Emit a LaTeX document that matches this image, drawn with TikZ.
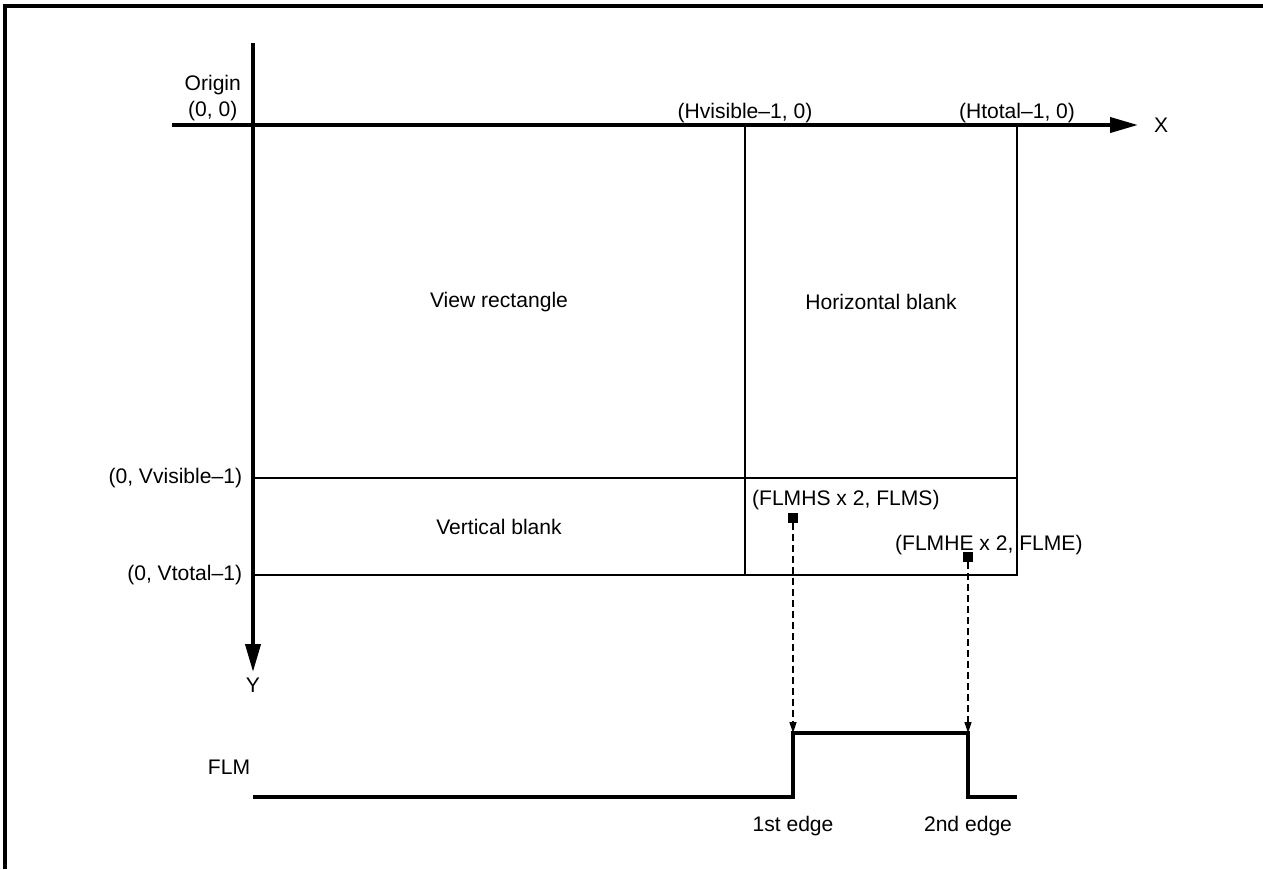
\documentclass[tikz,border=0pt]{standalone}
\usepackage{fontspec}
\setmainfont{Liberation Sans}
\usetikzlibrary{arrows.meta,positioning}

\begin{document}
\begin{tikzpicture}[
        x=0.02cm, y=-0.02cm,
        every node/.style={font=\fontsize{12}{15}\selectfont, inner sep=1pt},
        axis/.style={line width=2.2pt, -{Triangle[length=0.56cm, width=0.3cm]}},
        frameline/.style={line width=1.4pt},
        thinline/.style={line width=0.8pt},
        wave/.style={line width=1.8pt},
        dasharrow/.style={dash pattern=on 0.13cm off 0.09cm, line width=0.8pt, -{Triangle[length=0.22cm, width=0.14cm]}},
        marker/.style={fill=black, inner sep=0pt, minimum size=0.2cm},
    ]
        \useasboundingbox (0,0) rectangle (1263,869);

        % Outer frame (top and left only)
        \draw[line width=2pt] (5,869) -- (5,6) -- (1263,6);

        % Axes
        \coordinate (origin) at (253,125);
        \coordinate (xstart) at (172,125);
        \coordinate (ystart) at (253,43);
        \coordinate (xend) at (1138,125);
        \coordinate (yend) at (253,672);
        \draw[axis] (xstart) -- (xend);
        \draw[axis] (ystart) -- (yend);
        \node (xlabel) [right=8pt of xend] {X};
        \node (ylabel) [below=2pt of yend] {Y};
        \node (orig) [align=center, anchor=east] at (243,98) {Origin\\(0, 0)};

        % Grid corners
        \coordinate (hvis) at (745,125);
        \coordinate (htot) at (1017,125);
        \coordinate (vvis) at (253,478);
        \coordinate (vtot) at (253,575);
        \coordinate (hvvis) at (745,478);
        \coordinate (hvtot) at (745,575);
        \coordinate (tvis) at (1017,478);
        \coordinate (ttot) at (1017,575);

        \draw[frameline] (hvis) -- (hvvis);
        \draw[frameline] (vvis) -- (hvvis);
        \draw[frameline] (vtot) -- (hvtot);
        \draw[thinline] (hvvis) -- (hvtot) -- (ttot) -- (htot);
        \draw[thinline] (hvvis) -- (tvis);

        % Corner labels
        \node (hvislabel) [above=0pt of hvis] {(Hvisible--1, 0)};
        \node (htotlabel) [above=0pt of htot] {(Htotal--1, 0)};
        \node (vvislabel) [left=5pt of vvis] {(0, Vvisible--1)};
        \node (vtotlabel) [left=5pt of vtot] {(0, Vtotal--1)};

        % Regions
        \node (view) at (499,302) {View rectangle};
        \node (hblank) at (881,302) {Horizontal blank};
        \node (vblank) at (499,527) {Vertical blank};

        % FLM start / end points
        \node (flmslabel) [anchor=west] at (750,500) {(FLMHS x 2, FLMS)};
        \node (flmelabel) [anchor=west] at (893,545) {(FLMHE x 2, FLME)};
        \node (sqs) [marker] at (793,518) {};
        \node (sqe) [marker] at (968,557) {};

        % FLM waveform
        \coordinate (lowstart) at (253,797);
        \coordinate (risebot) at (793,797);
        \coordinate (risetop) at (793,733);
        \coordinate (falltop) at (968,733);
        \coordinate (fallbot) at (968,797);
        \coordinate (lowend) at (1017,797);
        \draw[wave] (lowstart) -- (risebot) -- (risetop) -- (falltop) -- (fallbot) -- (lowend);
        \node (flm) at (229,767) {FLM};
        \node (edge1) [below=10pt of risebot] {1st edge};
        \node (edge2) [below=10pt of fallbot] {2nd edge};

        % Projection arrows
        \draw[dasharrow] (sqs) -- (risetop);
        \draw[dasharrow] (sqe) -- (falltop);

    \end{tikzpicture}
\end{document}
